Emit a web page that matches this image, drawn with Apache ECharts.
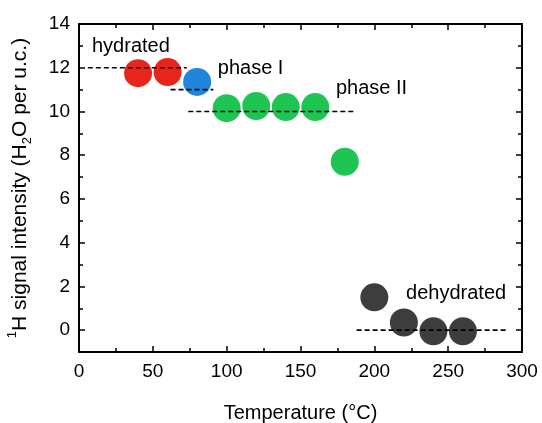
<!DOCTYPE html>
<html>
<head>
<meta charset="utf-8">
<script src="https://cdn.jsdelivr.net/npm/echarts@6/dist/echarts.min.js"></script>
<style>html,body{margin:0;padding:0;background:#fff}#c{width:542px;height:423px}</style>
</head>
<body>
<div id="c"></div>
<script>
// ---- data ----
const hydratedX = [40, 60];
const hydratedY = [11.75, 11.8];
const phase1X = [80];
const phase1Y = [11.35];
const phase2X = [100, 120, 140, 160, 180];
const phase2Y = [10.15, 10.25, 10.2, 10.2, 7.7];
const dehydX = [200, 220, 240, 260];
const dehydY = [1.5, 0.35, -0.05, -0.05];
// dashed reference levels
const refLevels = [12, 11, 10, 0];
const refStart = [6, 62, 74, 188];
const refEnd = [73, 91, 186, 290];
// annotations
const annText = ['hydrated', 'phase I', 'phase II', 'dehydrated'];
const annX = [8.8, 94, 174, 221.5];
const annY = [12.97, 11.96, 11.05, 1.69];
// ticks
const yMajor = [0, 2, 4, 6, 8, 10, 12, 14];
const yMinor = [1, 3, 5, 7, 9, 11, 13];

const FONT = 'Liberation Sans, Arial, sans-serif';
const zip = (xs, ys) => xs.map((x, i) => [x, ys[i]]);

const series = [];
function scat(xs, ys, color) {
  series.push({ type: 'scatter', data: zip(xs, ys), symbolSize: 28,
    itemStyle: { color: color, opacity: 1 }, z: 2, silent: true });
}
scat(hydratedX, hydratedY, '#e8251a');
scat(phase1X, phase1Y, '#1f86dc');
scat(phase2X, phase2Y, '#1fc552');
scat(dehydX, dehydY, '#3d3d3d');
refLevels.forEach((lv, i) => {
  series.push({ type: 'line', data: [[refStart[i], lv], [refEnd[i], lv]], symbol: 'none',
    lineStyle: { color: '#000', width: 1.6, type: [5, 3] }, z: 5, silent: true });
});
series.push({ type: 'scatter', symbolSize: 0, z: 6, silent: true,
  itemStyle: { opacity: 1, color: '#000' },
  data: annText.map((t, i) => ({ value: [annX[i], annY[i]], name: t })),
  label: { show: true, position: 'right', distance: 0, formatter: p => p.name,
    color: '#000', opacity: 1, textBorderWidth: 0, fontSize: 20, fontFamily: FONT } });

const tickCommon = { inside: true, lineStyle: { color: '#000', width: 1.5 } };
const axisLineCommon = { show: true, onZero: false, lineStyle: { color: '#000', width: 2 } };
const noLine = { show: false, onZero: false };

const option = {
  animation: false,
  backgroundColor: '#fff',
  grid: { left: 79, right: 20, top: 24, bottom: 71, outerBoundsMode: 'none', containLabel: false },
  xAxis: [
    { type: 'value', position: 'bottom', min: 0, max: 300, interval: 50,
      axisLine: axisLineCommon, splitLine: { show: false },
      axisTick: Object.assign({ length: 6 }, tickCommon),
      minorTick: { show: true, splitNumber: 2, length: 4, lineStyle: { color: '#000', width: 1.5 } },
      axisLabel: { color: '#000', fontSize: 19, fontFamily: FONT, margin: 10 },
      name: 'Temperature (°C)', nameLocation: 'middle', nameGap: 51,
      nameTextStyle: { color: '#000', fontSize: 20, fontFamily: FONT } },
    { type: 'value', position: 'top', min: 0, max: 300, interval: 50,
      axisLine: axisLineCommon, splitLine: { show: false },
      axisTick: Object.assign({ length: 6 }, tickCommon),
      minorTick: { show: true, splitNumber: 2, length: 4, lineStyle: { color: '#000', width: 1.5 } },
      axisLabel: { show: false } }
  ],
  yAxis: [
    { type: 'value', position: 'left', min: -1, max: 14,
      axisLine: axisLineCommon, splitLine: { show: false },
      axisTick: Object.assign({ length: 6, customValues: yMajor }, tickCommon),
      axisLabel: { customValues: yMajor, color: '#000', fontSize: 19, fontFamily: FONT, margin: 9 },
      name: '{sup|1}{n|H signal intensity (H}{sub|2}{n|O per u.c.)}',
      nameLocation: 'middle', nameGap: 45, nameRotate: 90,
      nameTextStyle: { color: '#000', fontFamily: FONT,
        rich: {
          n: { fontSize: 21, lineHeight: 28, color: '#000', fontFamily: FONT },
          sup: { fontSize: 13, lineHeight: 13, verticalAlign: 'top', color: '#000', fontFamily: FONT },
          sub: { fontSize: 13, lineHeight: 13, verticalAlign: 'bottom', color: '#000', fontFamily: FONT }
        } } },
    { type: 'value', position: 'left', min: -1, max: 14,
      axisLine: noLine, splitLine: { show: false },
      axisTick: Object.assign({ length: 4, customValues: yMinor }, tickCommon),
      axisLabel: { show: false } },
    { type: 'value', position: 'right', min: -1, max: 14,
      axisLine: axisLineCommon, splitLine: { show: false },
      axisTick: Object.assign({ length: 6, customValues: yMajor }, tickCommon),
      axisLabel: { show: false } },
    { type: 'value', position: 'right', min: -1, max: 14,
      axisLine: noLine, splitLine: { show: false },
      axisTick: Object.assign({ length: 4, customValues: yMinor }, tickCommon),
      axisLabel: { show: false } }
  ],
  series: series
};
const chart = echarts.init(document.getElementById('c'), null, { renderer: 'canvas' });
chart.setOption(option);
</script>
</body>
</html>
